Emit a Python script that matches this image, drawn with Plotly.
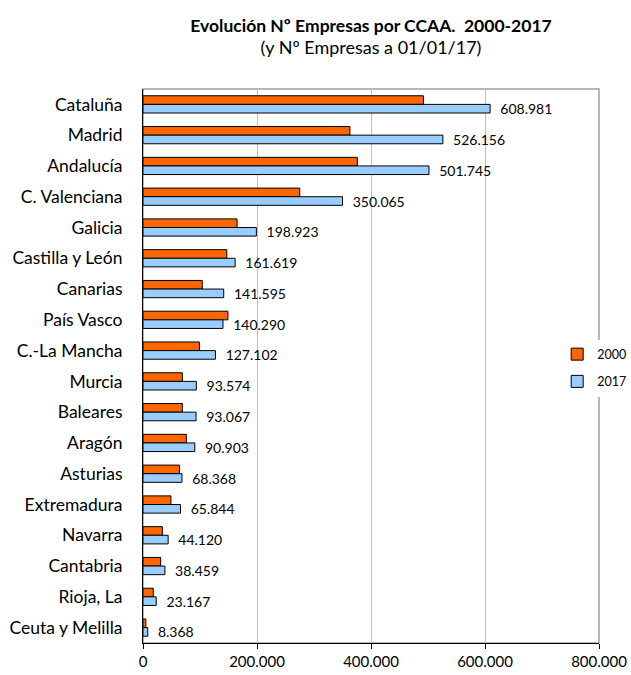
import plotly.graph_objects as go

categories = ["Cataluña", "Madrid", "Andalucía", "C. Valenciana", "Galicia",
              "Castilla y León", "Canarias", "País Vasco", "C.-La Mancha", "Murcia",
              "Baleares", "Aragón", "Asturias", "Extremadura", "Navarra", "Cantabria",
              "Rioja, La", "Ceuta y Melilla"]
values_2000 = [492000, 363000, 376000, 275000, 165000, 147000, 104000, 149000, 99000,
               69000, 69000, 76000, 64000, 49000, 34000, 31000, 18000, 5000]
values_2017 = [608981, 526156, 501745, 350065, 198923, 161619, 141595, 140290, 127102,
               93574, 93067, 90903, 68368, 65844, 44120, 38459, 23167, 8368]
x_ticks = [0, 200000, 400000, 600000, 800000]

FONT = "Lato"

fig = go.Figure()
fig.add_trace(go.Bar(
    y=categories, x=values_2000, orientation="h", name="2000",
    marker=dict(color="#FF6600", line=dict(color="black", width=1)),
    legendgroup="a",
))
fig.add_trace(go.Bar(
    y=categories, x=values_2017, orientation="h", name="2017",
    marker=dict(color="#99CCFF", line=dict(color="black", width=1)),
    texttemplate="\u00a0\u00a0%{x:,}", textposition="outside",
    textfont=dict(family=FONT, size=14, color="black"),
    constraintext="none", cliponaxis=False,
    legendgroup="b",
))

fig.update_layout(
    width=631, height=675,
    margin=dict(l=143, r=32, t=89, b=32, autoexpand=False),
    paper_bgcolor="white", plot_bgcolor="white",
    separators=",.",
    barmode="group", bargap=0.44, bargroupgap=0,
    font=dict(family=FONT, size=14, color="black"),
    title=dict(
        text="<b>Evolución Nº Empresas por CCAA.\u00a0\u00a02000-2017</b><br>"
             "<span style='font-size:18px'>(y Nº Empresas a 01/01/17)</span>",
        x=0.5, xref="paper", xanchor="center", y=0.953, yanchor="top",
        font=dict(family=FONT, size=17.5, color="black"),
    ),
    legend=dict(
        xref="container", yref="container",
        x=0.883, xanchor="left", y=0.4548, yanchor="middle",
        font=dict(family=FONT, size=12.5, color="black"),
        itemwidth=30, tracegroupgap=8, traceorder="grouped",
        bgcolor="white",
    ),
    xaxis=dict(
        range=[0, 800000], tickvals=x_ticks, tickformat=",",
        showgrid=True, gridcolor="#BFBFBF", gridwidth=1,
        showline=True, linecolor="black", linewidth=1,
        ticks="outside", ticklen=5, tickcolor="black",
        tickfont=dict(family=FONT, size=15, color="black"),
        zeroline=False, fixedrange=True, automargin=False,
    ),
    yaxis=dict(
        autorange="reversed", showline=True, linecolor="black", linewidth=1,
        ticks="", ticklabelstandoff=16,
        tickfont=dict(family=FONT, size=17.5, color="black"),
        showgrid=False, fixedrange=True, automargin=False,
    ),
    shapes=[dict(type="rect", xref="paper", yref="paper", x0=0, x1=1, y0=0, y1=1,
                 line=dict(color="#A0A0A0", width=1.5), layer="below")],
)

fig.write_html(
    "out.html",
    config={"displayModeBar": False},
    post_script="document.body.style.margin='0';document.body.style.overflow='hidden';",
)
